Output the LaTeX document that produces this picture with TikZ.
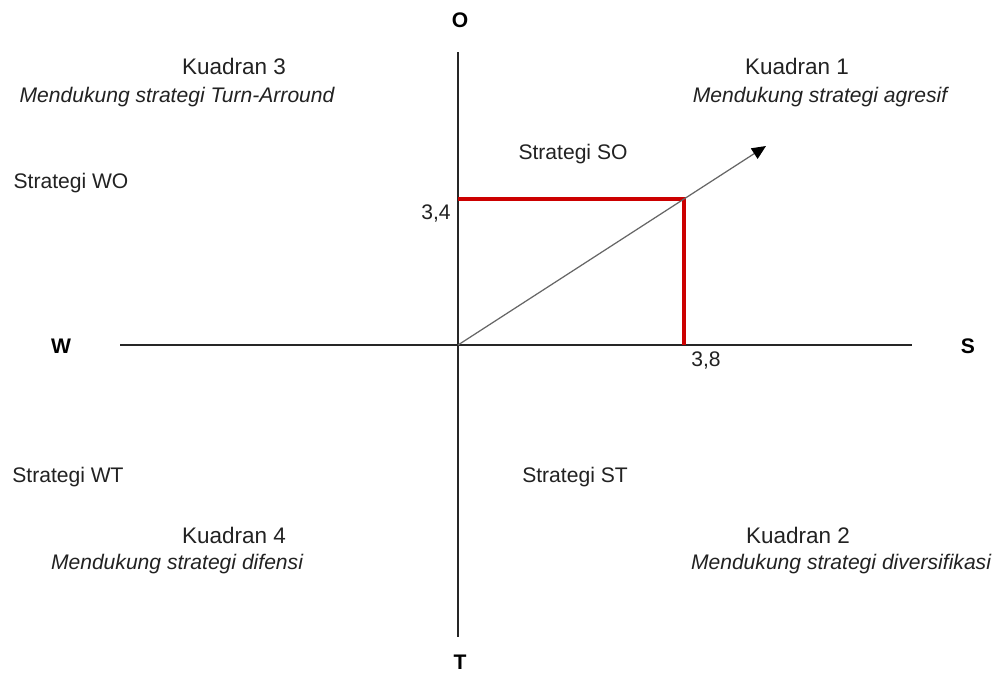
\documentclass[tikz,border=0pt]{standalone}
\usepackage{fontspec}
\setmainfont{Liberation Sans}
\usetikzlibrary{arrows.meta}
\definecolor{txt}{HTML}{222222}
\definecolor{redl}{HTML}{CC0000}
\begin{document}
\begin{tikzpicture}[x=0.02cm,y=-0.02cm,
  lbl/.style={text=txt,font=\fontsize{12}{14}\selectfont,inner sep=0pt},
  klbl/.style={text=txt,font=\fontsize{12.8}{15}\selectfont,inner sep=0pt},
  ilbl/.style={text=txt,font=\fontsize{12}{14}\selectfont\itshape,inner sep=0pt},
  axl/.style={text=black,font=\fontsize{12}{14}\selectfont\bfseries,inner sep=0pt},
  axis/.style={draw=black!85,line width=0.8pt},
  redline/.style={draw=redl,line width=1.8pt},
  vec/.style={draw=black!60,line width=0.7pt,-{Triangle[length=8pt,width=7pt,color=black]}}]
\useasboundingbox (0,0) rectangle (999,674);
\fill[white] (0,0) rectangle (999,674);
% axis end coordinates
\coordinate (otop) at (458,52);
\coordinate (tbot) at (458,637);
\coordinate (wl) at (120,345);
\coordinate (sr) at (912,345);
\coordinate (orig) at (458,345);
\coordinate (py) at (458,199);
\coordinate (pxy) at (684,199);
\coordinate (px) at (684,345);
\coordinate (tip) at (766,146);
% axes
\draw[axis] (otop) -- (tbot);
\draw[axis] (wl) -- (sr);
% red lines
\draw[redline] (py) -- (pxy) -- (px);
% vector
\draw[vec] (orig) -- (tip);
% axis labels
\node[axl] (o) at (460,20) {O};
\node[axl] (t) at (460,662) {T};
\node[axl] (w) at (61,346) {W};
\node[axl] (s) at (968,346) {S};
% values
\node[lbl] (v34) at (436,213) {3,4};
\node[lbl] (v38) at (706,360) {3,8};
% quadrant texts
\node[klbl] (k3) at (234,66) {Kuadran 3};
\node[ilbl] (k3t) at (177,97) {Mendukung strategi Turn-Arround};
\node[klbl] (k1) at (797,66) {Kuadran 1};
\node[ilbl] (k1t) at (820,97) {Mendukung strategi agresif};
\node[lbl] (so) at (573,154) {Strategi SO};
\node[lbl] (wo) at (71,183) {Strategi WO};
\node[lbl] (wt) at (68,477) {Strategi WT};
\node[lbl] (st) at (575,477) {Strategi ST};
\node[klbl] (k4) at (234,535) {Kuadran 4};
\node[ilbl] (k4t) at (177,564) {Mendukung strategi difensi};
\node[klbl] (k2) at (798,535) {Kuadran 2};
\node[ilbl] (k2t) at (841,564) {Mendukung strategi diversifikasi};
\end{tikzpicture}
\end{document}
